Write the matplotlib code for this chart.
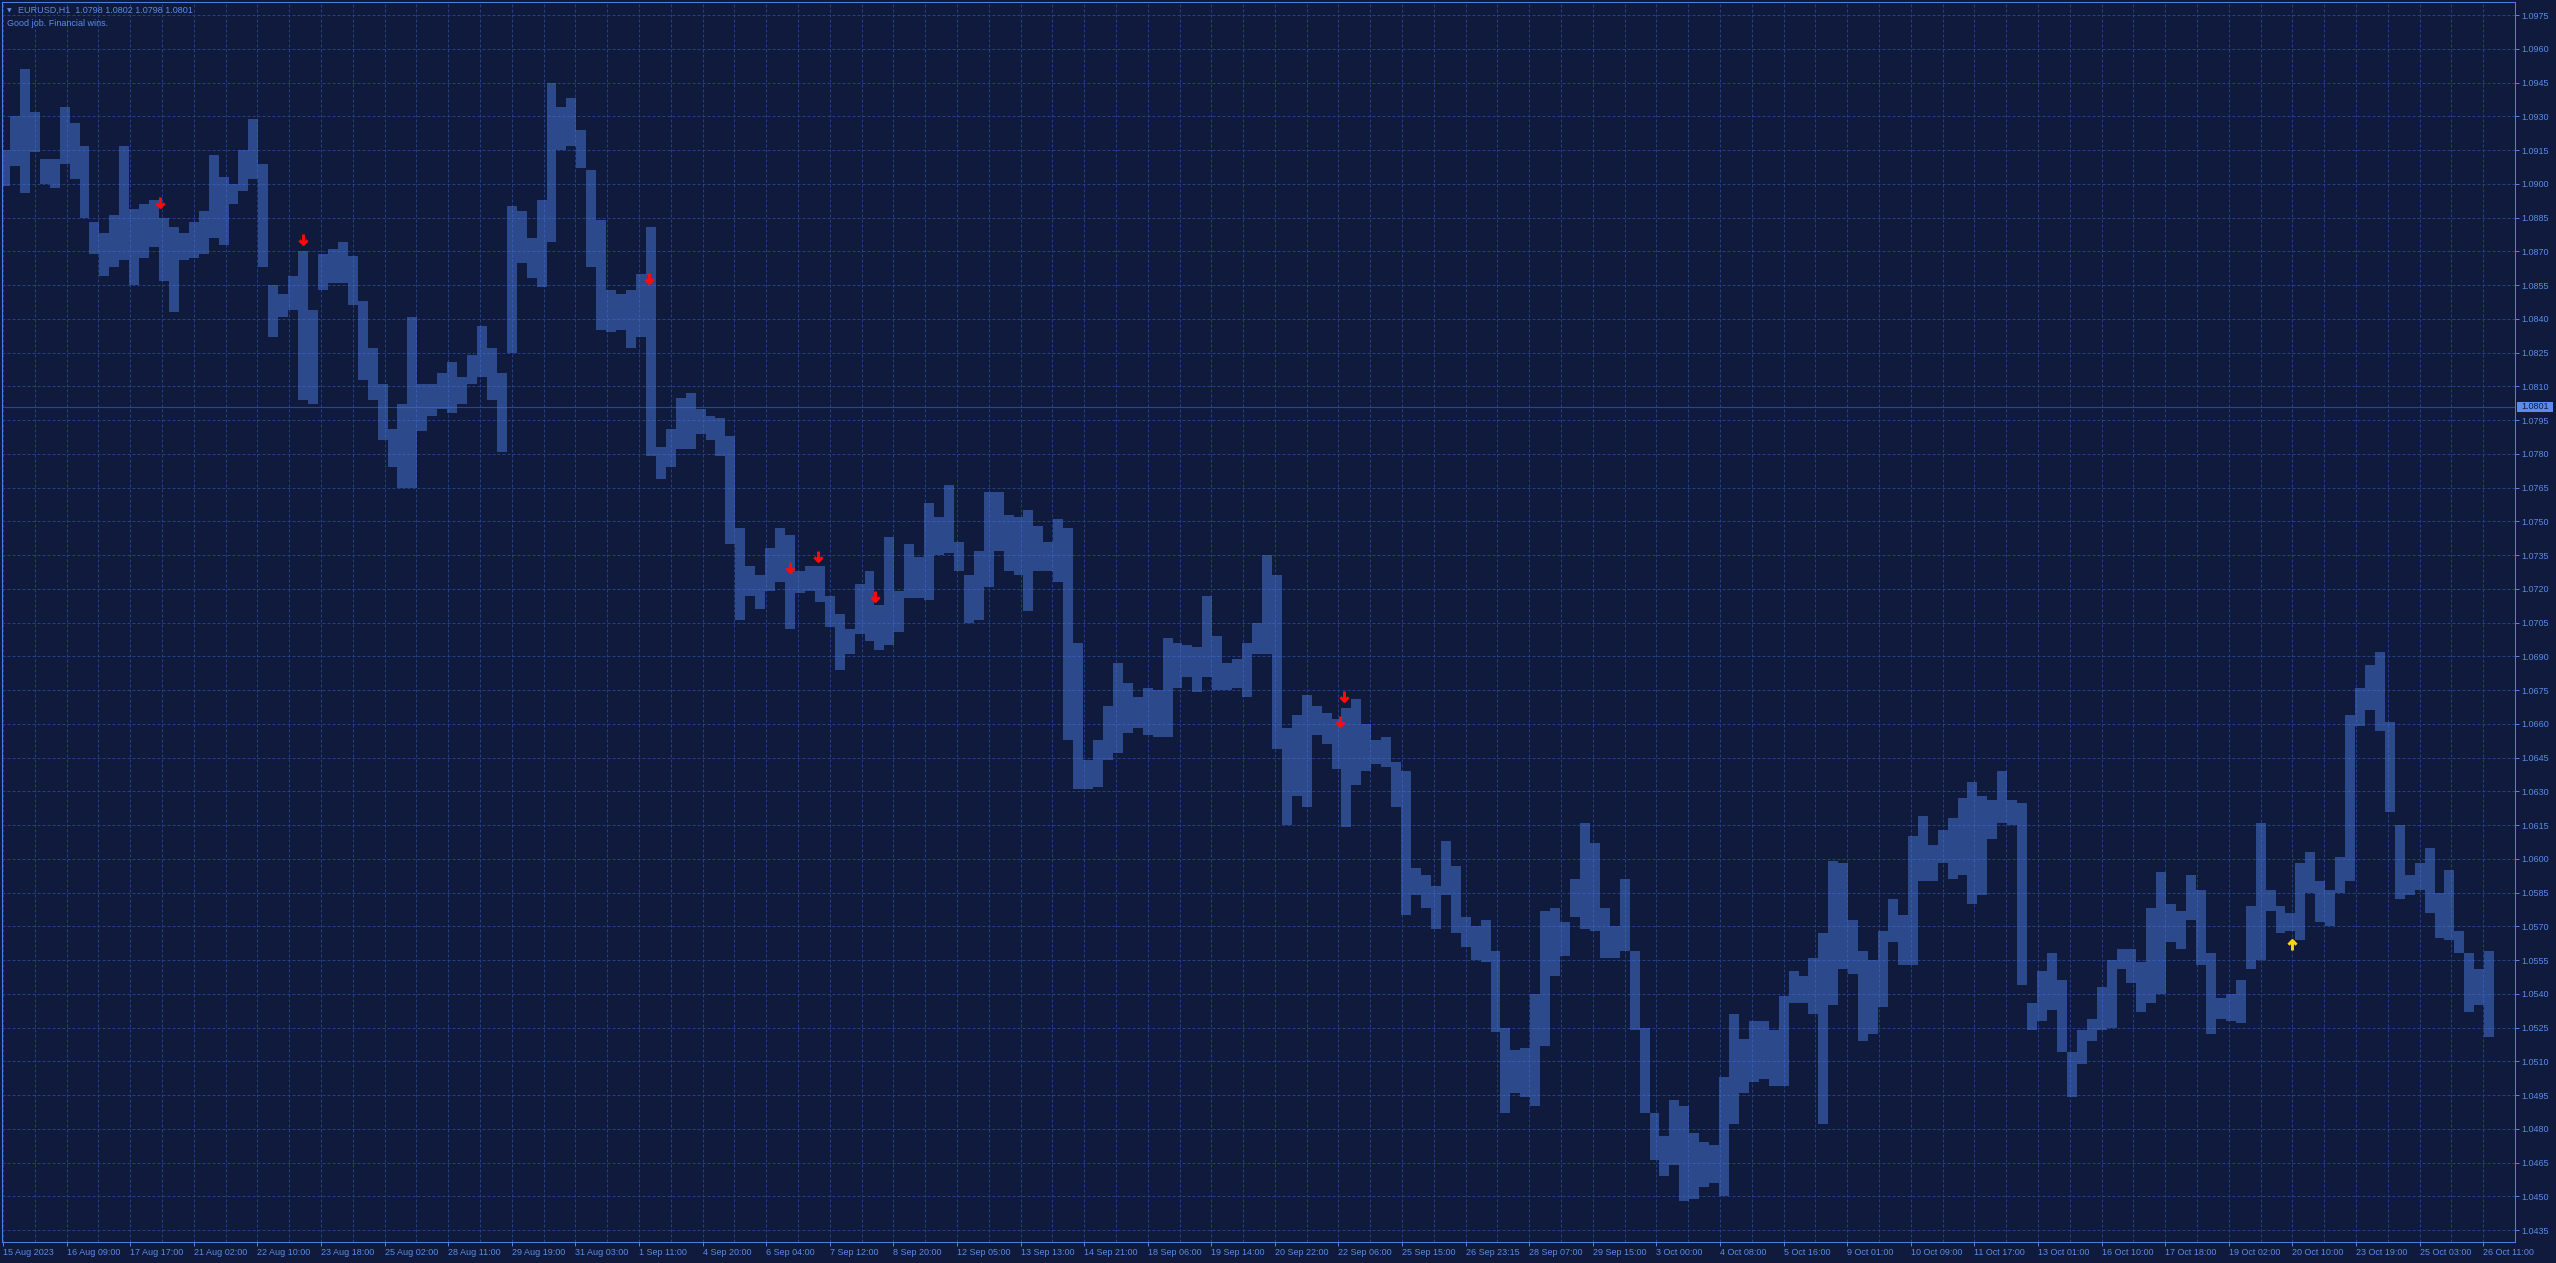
import matplotlib
matplotlib.use("Agg")
import matplotlib.pyplot as plt
import matplotlib.transforms as mtransforms
from matplotlib.path import Path
from matplotlib.patches import Rectangle

# ---------------- data ----------------
symbol = "EURUSD,H1"
last_ohlc = ["1.0798", "1.0802", "1.0798", "1.0801"]
comment = "Good job. Financial wins."
last_price = 1.0801

bars_per_segment = 5          # each high/low pair below summarises 5 hourly bars
seg_high = [
    1.0915, 1.0930, 1.0951, 1.0932, 1.0911, 1.0911, 1.0934, 1.0927, 1.0917, 1.0883,
    1.0878, 1.0886, 1.0917, 1.0889, 1.0891, 1.0893, 1.0885, 1.0881, 1.0878, 1.0883,
    1.0888, 1.0913, 1.0903, 1.0900, 1.0915, 1.0929, 1.0909, 1.0855, 1.0851, 1.0859,
    1.0870, 1.0844, 1.0869, 1.0871, 1.0874, 1.0868, 1.0848, 1.0827, 1.0811, 1.0791,
    1.0802, 1.0841, 1.0811, 1.0811, 1.0816, 1.0821, 1.0814, 1.0824, 1.0837, 1.0827,
    1.0816, 1.0890, 1.0888, 1.0876, 1.0893, 1.0945, 1.0934, 1.0938, 1.0924, 1.0906,
    1.0884, 1.0853, 1.0851, 1.0853, 1.0860, 1.0881, 1.0783, 1.0791, 1.0805, 1.0807,
    1.0800, 1.0797, 1.0796, 1.0788, 1.0747, 1.0730, 1.0726, 1.0738, 1.0747, 1.0744,
    1.0728, 1.0730, 1.0730, 1.0717, 1.0709, 1.0702,
    1.0722, 1.0728, 1.0713, 1.0743, 1.0719, 1.0740, 1.0734, 1.0758, 1.0752, 1.0766,
    1.0741, 1.0726, 1.0737, 1.0763, 1.0763, 1.0753, 1.0752, 1.0755, 1.0748, 1.0741,
    1.0751, 1.0747, 1.0696, 1.0644, 1.0653, 1.0668, 1.0687, 1.0678, 1.0672, 1.0676,
    1.0675, 1.0698, 1.0696, 1.0695, 1.0694, 1.0717, 1.0699, 1.0687, 1.0689, 1.0696,
    1.0705, 1.0735, 1.0726, 1.0658, 1.0664, 1.0673, 1.0668, 1.0665, 1.0662, 1.0667,
    1.0671, 1.0660, 1.0653, 1.0654, 1.0643, 1.0639, 1.0596, 1.0593, 1.0588, 1.0608,
    1.0597, 1.0574, 1.0570, 1.0573, 1.0559, 1.0525, 1.0515, 1.0516, 1.0540, 1.0577,
    1.0578, 1.0572, 1.0591, 1.0616, 1.0607, 1.0578, 1.0570, 1.0591, 1.0559, 1.0525,
    1.0487, 1.0477, 1.0493, 1.0490, 1.0478,
    1.0474, 1.0473, 1.0503, 1.0531, 1.0520, 1.0528, 1.0528, 1.0524, 1.0539, 1.0550,
    1.0548, 1.0556, 1.0567, 1.0599, 1.0598, 1.0573, 1.0559, 1.0555, 1.0568, 1.0582,
    1.0575, 1.0610, 1.0619, 1.0606, 1.0613, 1.0618, 1.0627, 1.0634, 1.0628, 1.0626,
    1.0639, 1.0626, 1.0625, 1.0536, 1.0550, 1.0558, 1.0546, 1.0514, 1.0524, 1.0529,
    1.0543, 1.0555, 1.0560, 1.0560, 1.0554, 1.0578, 1.0594, 1.0580, 1.0577, 1.0593,
    1.0586, 1.0558, 1.0538, 1.0540, 1.0546, 1.0579, 1.0616, 1.0586, 1.0579, 1.0576,
    1.0598, 1.0603, 1.0590, 1.0586, 1.0601, 1.0664, 1.0676, 1.0686, 1.0692, 1.0661,
    1.0615, 1.0593, 1.0598, 1.0605, 1.0585, 1.0595, 1.0568, 1.0558, 1.0551, 1.0559,
]
seg_low = [
    1.0899, 1.0908, 1.0896, 1.0914, 1.0900, 1.0898, 1.0909, 1.0902, 1.0885, 1.0869,
    1.0859, 1.0863, 1.0866, 1.0855, 1.0867, 1.0872, 1.0857, 1.0843, 1.0866, 1.0867,
    1.0869, 1.0876, 1.0873, 1.0891, 1.0897, 1.0902, 1.0863, 1.0832, 1.0841, 1.0844,
    1.0804, 1.0802, 1.0853, 1.0856, 1.0856, 1.0846, 1.0813, 1.0804, 1.0786, 1.0774,
    1.0765, 1.0765, 1.0790, 1.0797, 1.0800, 1.0798, 1.0802, 1.0811, 1.0814, 1.0804,
    1.0781, 1.0825, 1.0865, 1.0858, 1.0854, 1.0874, 1.0915, 1.0917, 1.0907, 1.0863,
    1.0835, 1.0834, 1.0835, 1.0827, 1.0832, 1.0779, 1.0769, 1.0774, 1.0782, 1.0782,
    1.0789, 1.0786, 1.0779, 1.0740, 1.0706, 1.0717, 1.0711, 1.0719, 1.0723, 1.0702,
    1.0718, 1.0719, 1.0714, 1.0703, 1.0684, 1.0691,
    1.0700, 1.0697, 1.0693, 1.0695, 1.0701, 1.0716, 1.0716, 1.0715, 1.0735, 1.0736,
    1.0728, 1.0705, 1.0706, 1.0721, 1.0737, 1.0728, 1.0726, 1.0710, 1.0728, 1.0728,
    1.0723, 1.0653, 1.0631, 1.0631, 1.0632, 1.0644, 1.0647, 1.0656, 1.0658, 1.0655,
    1.0654, 1.0654, 1.0676, 1.0681, 1.0674, 1.0681, 1.0675, 1.0675, 1.0676, 1.0672,
    1.0691, 1.0691, 1.0649, 1.0615, 1.0628, 1.0623, 1.0655, 1.0651, 1.0640, 1.0614,
    1.0633, 1.0639, 1.0642, 1.0641, 1.0623, 1.0575, 1.0584, 1.0578, 1.0569, 1.0584,
    1.0567, 1.0561, 1.0555, 1.0554, 1.0523, 1.0487, 1.0496, 1.0494, 1.0490, 1.0517,
    1.0548, 1.0557, 1.0574, 1.0569, 1.0568, 1.0556, 1.0556, 1.0559, 1.0524, 1.0487,
    1.0466, 1.0459, 1.0464, 1.0448, 1.0449,
    1.0454, 1.0456, 1.0450, 1.0482, 1.0496, 1.0501, 1.0502, 1.0499, 1.0499, 1.0536,
    1.0536, 1.0531, 1.0482, 1.0535, 1.0551, 1.0549, 1.0519, 1.0522, 1.0534, 1.0563,
    1.0553, 1.0553, 1.0590, 1.0590, 1.0598, 1.0591, 1.0593, 1.0580, 1.0584, 1.0609,
    1.0616, 1.0615, 1.0544, 1.0524, 1.0528, 1.0533, 1.0514, 1.0494, 1.0509, 1.0519,
    1.0524, 1.0525, 1.0551, 1.0545, 1.0532, 1.0536, 1.0540, 1.0563, 1.0560, 1.0573,
    1.0553, 1.0522, 1.0529, 1.0528, 1.0527, 1.0551, 1.0555, 1.0577, 1.0567, 1.0568,
    1.0564, 1.0585, 1.0572, 1.0570, 1.0585, 1.0590, 1.0659, 1.0666, 1.0657, 1.0621,
    1.0582, 1.0584, 1.0586, 1.0576, 1.0565, 1.0564, 1.0558, 1.0532, 1.0535, 1.0521,
]

bars_per_label = 32
time_labels = [
    "15 Aug 2023", "16 Aug 09:00", "17 Aug 17:00", "21 Aug 02:00", "22 Aug 10:00",
    "23 Aug 18:00", "25 Aug 02:00", "28 Aug 11:00", "29 Aug 19:00", "31 Aug 03:00",
    "1 Sep 11:00", "4 Sep 20:00", "6 Sep 04:00", "7 Sep 12:00", "8 Sep 20:00",
    "12 Sep 05:00", "13 Sep 13:00", "14 Sep 21:00", "18 Sep 06:00", "19 Sep 14:00",
    "20 Sep 22:00", "22 Sep 06:00", "25 Sep 15:00", "26 Sep 23:15", "28 Sep 07:00",
    "29 Sep 15:00", "3 Oct 00:00", "4 Oct 08:00", "5 Oct 16:00", "9 Oct 01:00",
    "10 Oct 09:00", "11 Oct 17:00", "13 Oct 01:00", "16 Oct 10:00", "17 Oct 18:00",
    "19 Oct 02:00", "20 Oct 10:00", "23 Oct 19:00", "25 Oct 03:00", "26 Oct 11:00",
]
price_ticks = [
    1.0435, 1.0450, 1.0465, 1.0480, 1.0495, 1.0510, 1.0525, 1.0540, 1.0555, 1.0570,
    1.0585, 1.0600, 1.0615, 1.0630, 1.0645, 1.0660, 1.0675, 1.0690, 1.0705, 1.0720,
    1.0735, 1.0750, 1.0765, 1.0780, 1.0795, 1.0810, 1.0825, 1.0840, 1.0855, 1.0870,
    1.0885, 1.0900, 1.0915, 1.0930, 1.0945, 1.0960, 1.0975,
]
sell_bar = [79, 151, 325, 396, 410, 439, 673, 675]
sell_price = [1.08918, 1.08756, 1.08580, 1.07297, 1.07348, 1.07166, 1.06614, 1.06725]
buy_bar = [1152]
buy_price = [1.05615]

# ---------------- style ----------------
DPI = 96
W_PX, H_PX = 2556, 1263
BG = "#0f1a3c"
GRID = "#223f88"
FRAME = "#4f7fe0"
BARC = "#4a78dc"
TXT = "#5b8ce8"
PLINE = "#27468f"
FONT = ["Liberation Sans", "DejaVu Sans"]
FS = 6.75

plt.rcParams["font.family"] = FONT
plt.rcParams["hatch.linewidth"] = 0.75

fig = plt.figure(figsize=(W_PX / DPI, H_PX / DPI), dpi=DPI, facecolor=BG)
left, right, top, bottom = 2, 2515, 2, 1242
ax = fig.add_axes([left / W_PX, 1 - bottom / H_PX, (right - left) / W_PX, (bottom - top) / H_PX])
ax.set_facecolor(BG)

n = len(seg_high)
x = [bars_per_segment * i + 1 for i in range(n)]
ax.bar(x, [h - l for h, l in zip(seg_high, seg_low)], bottom=seg_low,
       width=bars_per_segment, facecolor="none", edgecolor=BARC, linewidth=0,
       hatch="|" * 8, zorder=3)

ax.set_xlim(-0.5, 1256)
ax.set_ylim(1.04297, 1.09808)

# current price line
ax.axhline(last_price, color=PLINE, lw=0.9, zorder=2)

# signals
down = Path([(0, 1), (0, -1), (-0.8, -0.15), (0, -1), (0.8, -0.15)],
            [Path.MOVETO, Path.LINETO, Path.MOVETO, Path.LINETO, Path.LINETO])
up = Path([(0, -1), (0, 1), (-0.8, 0.15), (0, 1), (0.8, 0.15)],
          [Path.MOVETO, Path.LINETO, Path.MOVETO, Path.LINETO, Path.LINETO])
ax.plot(sell_bar, sell_price, linestyle="none", marker=down, markersize=7.5,
        markeredgewidth=2.2, markeredgecolor="#ff0a0a", fillstyle="none", zorder=5)
ax.plot(buy_bar, buy_price, linestyle="none", marker=up, markersize=7.5,
        markeredgewidth=2.2, markeredgecolor="#ffd400", fillstyle="none", zorder=5)

# axes / ticks
for s in ax.spines.values():
    s.set_color(FRAME)
    s.set_linewidth(0.75)
ax.yaxis.tick_right()
ax.set_yticks(price_ticks)
ax.set_yticklabels([f"{p:.4f}" for p in price_ticks])
ax.set_xticks([bars_per_label * k for k in range(len(time_labels))])
ax.set_xticklabels(time_labels, ha="left")
ax.set_xticks([bars_per_label * k + bars_per_label // 2 for k in range(len(time_labels))], minor=True)
ax.tick_params(axis="both", which="major", colors=FRAME, labelcolor=TXT,
               labelsize=FS, length=3, width=0.75, pad=1.5)
ax.tick_params(axis="x", which="minor", length=0)
ax.grid(True, which="both", color=GRID, linestyle=(0, (3, 2)), linewidth=0.75)
ax.set_axisbelow(True)

# last price tag
tr = mtransforms.blended_transform_factory(fig.transFigure, ax.transData)
half = 5 / 22500
ax.add_patch(Rectangle((2517 / W_PX, last_price - half), 36 / W_PX, 2 * half,
                       transform=tr, facecolor="#5a8cee", edgecolor="none",
                       clip_on=False, zorder=6))
ax.text(2535 / W_PX, last_price, f"{last_price:.4f}", transform=tr, ha="center",
        va="center", fontsize=FS, color="#0f1a3c", zorder=7, clip_on=False)

# header texts
fig.text(7 / W_PX, 1 - 10.5 / H_PX, "\u25bc", fontsize=4.5, color=TXT,
         family="DejaVu Sans", ha="left", va="center")
fig.text(18 / W_PX, 1 - 10 / H_PX, symbol + "  " + " ".join(last_ohlc),
         fontsize=FS, color=TXT, ha="left", va="center")
fig.text(7 / W_PX, 1 - 24 / H_PX, comment, fontsize=FS, color=TXT,
         ha="left", va="center")

fig.savefig("out.png", dpi=DPI, facecolor=BG)
